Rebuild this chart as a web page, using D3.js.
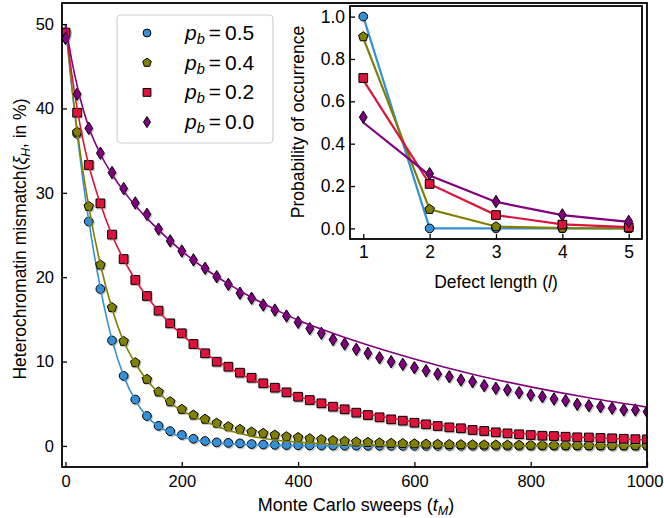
<!DOCTYPE html>
<html><head><meta charset="utf-8">
<script src="https://cdn.jsdelivr.net/npm/d3@7"></script>
<style>body{margin:0;background:#fff}svg{display:block}text{font-family:"Liberation Sans",Arial,Helvetica,sans-serif;fill:#000}</style>
</head><body><svg id="c" width="664" height="518"></svg>
<script>
// ---------- DATA ----------
const sweeps = [0,20,40,60,80,100,120,140,160,180,200,220,240,260,280,300,320,340,360,380,400,420,440,460,480,500,520,540,560,580,600,620,640,660,680,700,720,740,760,780,800,820,840,860,880,900,920,940,960,980,1000];
const mismatch05 = [49.0,37.0,26.6,18.6,12.5,8.3,5.5,3.55,2.38,1.75,1.3,0.85,0.58,0.42,0.36,0.3,0.22,0.17,0.13,0.1,0.08,0.06,0.05,0.04,0.03,0.03,0.02,0.02,0.02,0.01,0.01,0.01,0.01,0.01,0.01,0.01,0,0,0,0,0,0,0,0,0,0,0,0,0,0,0];
const mismatch04 = [49.0,37.2,28.4,21.45,16.4,12.4,9.87,7.9,6.4,5.24,4.34,3.66,3.17,2.7,2.28,1.96,1.65,1.49,1.29,1.1,1.0,0.86,0.76,0.64,0.56,0.47,0.42,0.36,0.31,0.28,0.25,0.22,0.2,0.17,0.15,0.13,0.12,0.11,0.1,0.09,0.08,0.07,0.07,0.06,0.06,0.05,0.05,0.04,0.04,0.03,0.03];
const mismatch02 = [49.0,39.5,33.3,28.75,25.05,22.15,19.67,17.77,16.03,14.53,13.35,12.08,10.98,9.98,9.39,8.68,8.08,7.42,6.9,6.35,5.83,5.44,5.05,4.65,4.34,3.94,3.66,3.39,3.15,2.99,2.75,2.56,2.36,2.2,2.09,1.89,1.77,1.61,1.49,1.38,1.29,1.21,1.17,1.09,1.02,1.0,0.94,0.9,0.85,0.8,0.78];
const mismatch00 = [48.3,41.7,37.65,34.7,32.4,30.5,28.8,27.45,25.7,24.3,23.1,22.05,21.05,20.06,19.15,18.1,17.5,16.7,16.1,15.4,14.65,13.9,13.35,12.6,12.08,11.45,10.98,10.45,9.98,9.67,9.27,8.91,8.52,8.2,7.81,7.61,7.14,6.83,6.63,6.31,6.03,5.83,5.56,5.36,4.93,4.77,4.65,4.46,4.26,4.26,4.05];
// fitted curves
const fitSweeps = [0,10,20,30,40,60,80,100,120,140,160,180,200,240,280,320,360,400,450,500,600,700,800,900,1000];
const fit05 = [50,43.0,37.0,31.5,26.7,18.7,12.6,8.3,5.4,3.5,2.3,1.55,1.05,0.5,0.25,0.12,0.06,0.03,0.01,0,0,0,0,0,0];
const fit04 = [50,43.2,37.5,32.6,28.4,21.5,16.3,12.4,9.8,7.8,6.3,5.1,4.2,2.9,1.85,1.15,0.7,0.45,0.25,0.15,0.05,0.02,0.01,0,0];
const fit02 = [50,44.5,40.0,36.3,33.3,28.7,25.0,22.1,19.7,17.7,16.0,14.5,13.2,11.0,9.3,7.9,6.8,5.85,4.85,4.05,2.85,2.0,1.4,1.0,0.7];
const fit00 = [50,46.0,42.7,40.0,37.8,34.6,32.2,30.2,28.5,27.0,25.6,24.3,23.1,21.0,19.2,17.6,16.2,14.9,13.6,12.4,10.3,8.5,7.0,5.7,4.6];
const seriesLabels = ["0.5","0.4","0.2","0.0"];
const seriesColors = ["#3590d8","#808000","#dc143c","#800080"];
const seriesMarkers = ["circle","pentagon","square","diamond"];
const xTicks = [0,200,400,600,800,1000];
const yTicks = [0,10,20,30,40,50];
// inset
const defectLength = [1,2,3,4,5];
const prob05 = [1.0,0.0,0.0,0.0,0.0];
const prob04 = [0.905,0.09,0.008,0.001,0.0];
const prob02 = [0.71,0.21,0.063,0.018,0.005];
const prob00 = [0.525,0.258,0.127,0.064,0.033];
const theo05 = [1.0,0.0,0.0,0.0,0.0];
const theo04 = [0.9,0.09,0.009,0.001,0.0];
const theo02 = [0.7,0.21,0.063,0.019,0.006];
const theo00 = [0.5,0.25,0.125,0.0625,0.031];
const insetYTicks = [0,0.2,0.4,0.6,0.8,1.0];

// ---------- DRAW ----------
const svg = d3.select("#c");
svg.append("rect").attr("width",664).attr("height",518).attr("fill","#fff");

const L=62,R=647,T=3,B=467;
const x = d3.scaleLinear().domain([-6,1000]).range([L,R]);
const y = d3.scaleLinear().domain([-2.5,52.5]).range([B,T]);

function markerPath(type, s){
  if(type==="circle") return d3.symbol(d3.symbolCircle, 60*s*s)();
  if(type==="square") return d3.symbol(d3.symbolSquare, 76*s*s)();
  if(type==="diamond"){const w=3.9*s,h=6.2*s;return `M0,${-h}L${w},0L0,${h}L${-w},0Z`;}
  if(type==="pentagon"){const r=5.0*s;let p="";for(let i=0;i<5;i++){const a=-Math.PI/2+i*2*Math.PI/5;p+=(i?"L":"M")+(r*Math.cos(a)).toFixed(2)+","+(r*Math.sin(a)).toFixed(2);}return p+"Z";}
}

const mainSeries = [mismatch05,mismatch04,mismatch02,mismatch00];
const fits = [fit05,fit04,fit02,fit00];

svg.append("clipPath").attr("id","mclip").append("rect").attr("x",L).attr("y",T).attr("width",R-L).attr("height",B-T);
const plot = svg.append("g").attr("clip-path","url(#mclip)");

const line = d3.line().x(d=>x(d[0])).y(d=>y(d[1])).curve(d3.curveMonotoneX);
mainSeries.forEach((vals,i)=>{
  const g = plot.append("g");
  const pts = sweeps.map((t,k)=>[t,vals[k]]);
  const p = markerPath(seriesMarkers[i],1);
  g.selectAll("path.sh").data(pts).join("path").attr("class","sh").attr("d",p)
    .attr("transform",d=>`translate(${x(d[0])+1.2},${y(d[1])+1.2})`)
    .attr("fill","#9a9a9a").attr("opacity",0.55).attr("stroke","#9a9a9a").attr("stroke-width",1);
  g.selectAll("path.mk").data(pts).join("path").attr("class","mk").attr("d",p)
    .attr("transform",d=>`translate(${x(d[0])},${y(d[1])})`)
    .attr("fill",seriesColors[i]).attr("stroke","#000").attr("stroke-width",1);
  g.append("path").datum(fitSweeps.map((t,k)=>[t,fits[i][k]])).attr("d",line)
    .attr("fill","none").attr("stroke",seriesColors[i]).attr("stroke-width",1.6);
});

// axes
const fontTick = 16.5;
const xa = svg.append("g").attr("transform",`translate(0,${B})`)
  .call(d3.axisBottom(x).tickValues(xTicks).tickSizeInner(-5).tickSizeOuter(0).tickPadding(8).tickFormat(d3.format("d")));
const ya = svg.append("g").attr("transform",`translate(${L},0)`)
  .call(d3.axisLeft(y).tickValues(yTicks).tickSizeInner(-5).tickSizeOuter(0).tickPadding(8).tickFormat(d3.format("d")));
[xa,ya].forEach(a=>{a.select(".domain").remove();a.selectAll("line").attr("stroke","#000").attr("stroke-width",1.3);a.selectAll("text").attr("font-size",fontTick).attr("font-family","Liberation Sans, Arial, sans-serif").attr("fill","#000");});
xa.selectAll(".tick text").filter(d=>d===1000).attr("dx",-2.5);
svg.append("rect").attr("x",L).attr("y",T).attr("width",R-L).attr("height",B-T).attr("fill","none").attr("stroke","#000").attr("stroke-width",1.8);

// axis labels
const xl = svg.append("text").attr("x",356).attr("y",511).attr("text-anchor","middle").attr("font-size",18);
xl.append("tspan").text("Monte Carlo sweeps (");
xl.append("tspan").attr("font-style","italic").text("t");
xl.append("tspan").attr("font-style","italic").attr("font-size",12.5).attr("dy",4).text("M");
xl.append("tspan").attr("dy",-4).text(")");
const yl = svg.append("text").attr("transform",`translate(26,239) rotate(-90)`).attr("text-anchor","middle").attr("font-size",17.5);
yl.append("tspan").text("Heterochromatin mismatch(");
yl.append("tspan").attr("font-style","italic").text("ξ");
yl.append("tspan").attr("font-style","italic").attr("font-size",12).attr("dy",4).text("H");
yl.append("tspan").attr("dy",-4).text(", in %)");

// legend
const lg = svg.append("g");
lg.append("rect").attr("x",117).attr("y",15).attr("width",156).attr("height",128).attr("rx",4)
  .attr("fill","#fff").attr("fill-opacity",0.8).attr("stroke","#cfcfcf").attr("stroke-width",1.2);
seriesLabels.forEach((lab,i)=>{
  const yy = 33+i*29.7;
  lg.append("path").attr("d",markerPath(seriesMarkers[i],0.9)).attr("transform",`translate(147,${yy})`)
    .attr("fill",seriesColors[i]).attr("stroke","#000").attr("stroke-width",1);
  const t = lg.append("text").attr("x",185).attr("y",yy+7).attr("font-size",21);
  t.append("tspan").attr("font-style","italic").text("p");
  t.append("tspan").attr("font-style","italic").attr("font-size",14.5).attr("dy",4).text("b");
  t.append("tspan").attr("dy",-4).attr("dx",4).text("=");
  t.append("tspan").attr("dx",4).text(lab);
});

// inset
const iL=350,iR=642,iT=6,iB=239;
const ix = d3.scaleLinear().domain([0.8,5.2]).range([iL,iR]);
const iy = d3.scaleLinear().domain([-0.05,1.05]).range([iB,iT]);
const ig = svg.append("g");
ig.append("rect").attr("x",iL).attr("y",iT).attr("width",iR-iL).attr("height",iB-iT).attr("fill","#fff");
const probs=[prob05,prob04,prob02,prob00], theos=[theo05,theo04,theo02,theo00];
const iline = d3.line().x(d=>ix(d[0])).y(d=>iy(d[1]));
probs.forEach((vals,i)=>{
  ig.append("path").datum(defectLength.map((l,k)=>[l,theos[i][k]])).attr("d",iline)
    .attr("fill","none").attr("stroke",seriesColors[i]).attr("stroke-width",2.2);
  ig.selectAll(null).data(defectLength.map((l,k)=>[l,vals[k]])).join("path")
    .attr("d",markerPath(seriesMarkers[i],1.0)).attr("transform",d=>`translate(${ix(d[0])},${iy(d[1])})`)
    .attr("fill",seriesColors[i]).attr("stroke","#000").attr("stroke-width",1);
});
const ixa = ig.append("g").attr("transform",`translate(0,${iB})`)
  .call(d3.axisBottom(ix).tickValues(defectLength).tickSizeInner(-5).tickSizeOuter(0).tickPadding(7).tickFormat(d3.format("d")));
const iya = ig.append("g").attr("transform",`translate(${iL},0)`)
  .call(d3.axisLeft(iy).tickValues(insetYTicks).tickSizeInner(-5).tickSizeOuter(0).tickPadding(5).tickFormat(d3.format(".1f")));
[ixa,iya].forEach(a=>{a.select(".domain").remove();a.selectAll("line").attr("stroke","#000").attr("stroke-width",1.3);a.selectAll("text").attr("font-size",17.5).attr("font-family","Liberation Sans, Arial, sans-serif").attr("fill","#000");});
ig.append("rect").attr("x",iL).attr("y",iT).attr("width",iR-iL).attr("height",iB-iT).attr("fill","none").attr("stroke","#000").attr("stroke-width",1.8);
const ixl = ig.append("text").attr("x",496).attr("y",288).attr("text-anchor","middle").attr("font-size",17.5);
ixl.append("tspan").text("Defect length (");
ixl.append("tspan").attr("font-style","italic").text("l");
ixl.append("tspan").text(")");
ig.append("text").attr("transform",`translate(304,122) rotate(-90)`).attr("text-anchor","middle").attr("font-size",17.5).text("Probability of occurrence");
</script></body></html>
